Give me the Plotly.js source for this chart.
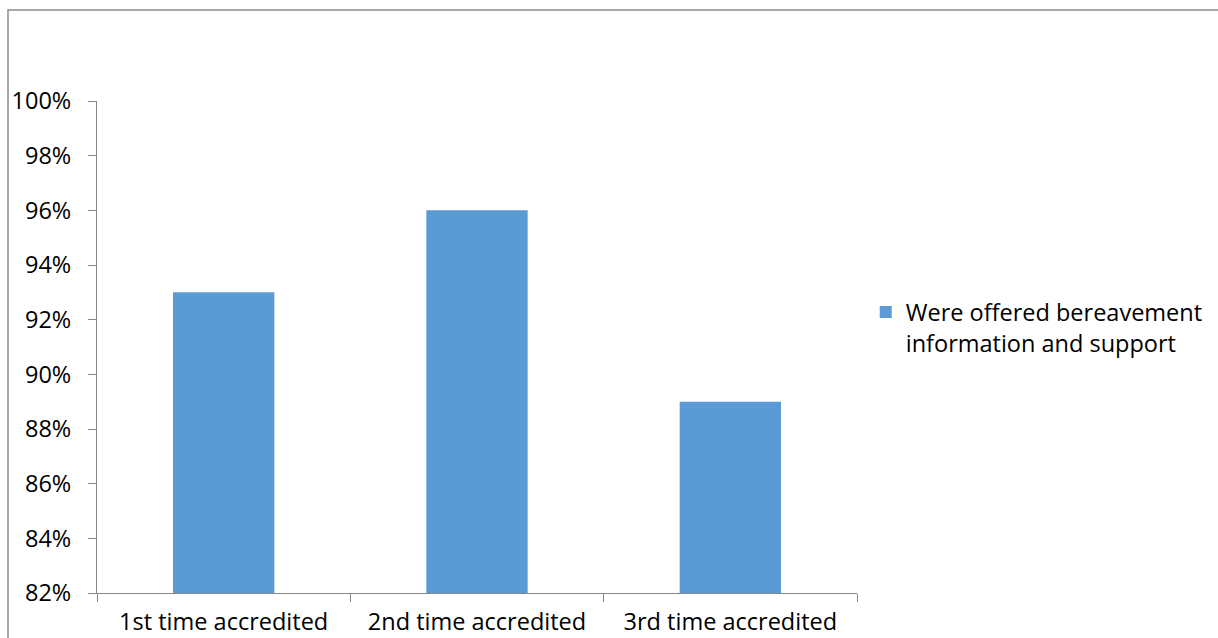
<!DOCTYPE html>
<html>
<head>
<meta charset="utf-8">
<script src="https://cdn.plot.ly/plotly-3.0.1.min.js"></script>
<style>html,body{margin:0;padding:0;background:#fff;}#chart{width:1218px;height:638px;}</style>
</head>
<body>
<div id="chart"></div>
<script>
var categories = ["1st time accredited", "2nd time accredited", "3rd time accredited"];
var values = [93, 96, 89];
var seriesName = "Were offered bereavement<br>information and support";
var yTickValues = [82, 84, 86, 88, 90, 92, 94, 96, 98, 100];

var font = {family: "Open Sans, Lato, sans-serif", size: 23.5, color: "#000000"};

var trace = {
  type: "bar",
  x: categories,
  y: values,
  name: seriesName,
  marker: {color: "#5B9BD5"},
  showlegend: true,
  hoverinfo: "x+y"
};

var layout = {
  width: 1218,
  height: 638,
  margin: {l: 97, r: 361, t: 101, b: 45, pad: 0, autoexpand: false},
  paper_bgcolor: "#ffffff",
  plot_bgcolor: "#ffffff",
  font: font,
  bargap: 0.6,
  showlegend: true,
  legend: {
    x: 1.0115, y: 0.539, xanchor: "left", yanchor: "middle", valign: "top",
    font: font, bgcolor: "rgba(0,0,0,0)", itemwidth: 20
  },
  xaxis: {
    type: "category",
    showline: true, linecolor: "#868686", linewidth: 1,
    ticks: "outside", ticklen: 8, tickcolor: "#868686", tickson: "boundaries",
    showgrid: false, zeroline: false,
    tickfont: font, ticklabelstandoff: 8
  },
  yaxis: {
    range: [82, 100],
    tickvals: yTickValues,
    ticktext: yTickValues.map(function(v){ return v + "%"; }),
    showline: true, linecolor: "#868686", linewidth: 1,
    ticks: "outside", ticklen: 8, tickcolor: "#868686",
    showgrid: false, zeroline: false,
    tickfont: font, ticklabelstandoff: 12
  },
  shapes: [{
    type: "rect", xref: "paper", yref: "paper",
    x0: -89/760, x1: 1.7,
    y0: -0.3, y1: (593-10)/492,
    line: {color: "#8c8c8c", width: 1.5}, fillcolor: "rgba(0,0,0,0)", layer: "below"
  }]
};

Plotly.newPlot("chart", [trace], layout, {displayModeBar: false, staticPlot: true});
</script>
</body>
</html>
